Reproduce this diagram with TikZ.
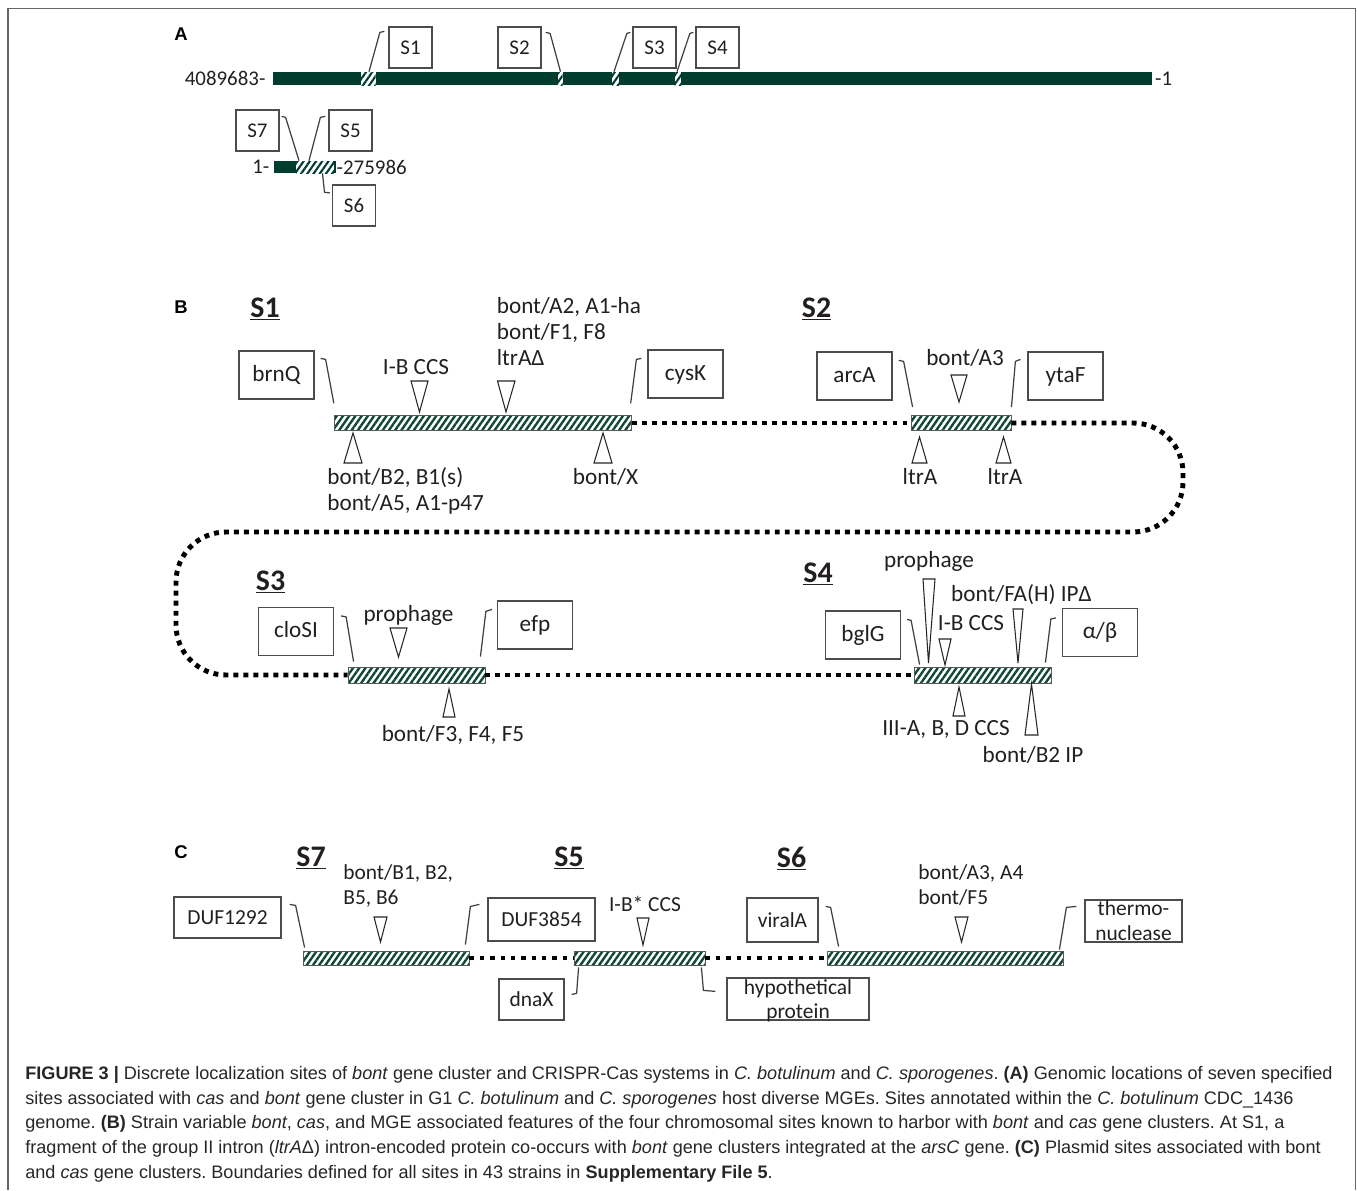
\documentclass[tikz,border=0pt]{standalone}
\usepackage{fontspec}
\setmainfont{Carlito}
\newfontfamily\capfont{Liberation Sans}
\usepackage{xcolor}
\usepackage{tikz}
\usetikzlibrary{patterns.meta}
\definecolor{genomegreen}{RGB}{0,61,46}
\definecolor{hatchgreen}{RGB}{15,70,52}
\definecolor{inkgray}{RGB}{35,31,32}
\frenchspacing

\begin{document}
\begin{tikzpicture}[x=0.02cm, y=-0.02cm]
% Define styles
\tikzstyle{genebox} = [rectangle, draw=black!70, line width=0.7pt, fill=white, inner sep=0pt, text=inkgray, text centered]
\tikzstyle{boxA} = [genebox, minimum width=0.86cm, minimum height=0.82cm, font=\fontsize{11.9pt}{14pt}\selectfont]
\tikzstyle{boxB} = [genebox, minimum width=1.5cm, minimum height=0.96cm, text height=9.5pt, text depth=2.6pt, font=\fontsize{13.2pt}{15pt}\selectfont]
\tikzstyle{boxC} = [genebox, minimum height=0.84cm, align=center, font=\fontsize{12.2pt}{14.17pt}\selectfont]
\tikzstyle{hatchbar} = [rectangle, draw=black!65, line width=0.5pt, inner sep=0pt, preaction={fill=white}, pattern={Lines[angle=55,distance=2.9pt,line width=1.35pt]}, pattern color=hatchgreen]
\tikzstyle{hatchwin} = [preaction={fill=white}, pattern={Lines[angle=55,distance=2.9pt,line width=1.2pt]}, pattern color=genomegreen]
\tikzstyle{genome} = [rectangle, fill=genomegreen, inner sep=0pt]
\tikzstyle{leader} = [draw=black!75, line width=0.7pt, line join=round]
\tikzstyle{marker} = [draw=black!85, line width=0.6pt, fill=white, line join=miter]
\tikzstyle{chromdots} = [line width=2.8pt, dash pattern=on 2.8pt off 2.9pt]
\tikzstyle{plasdots} = [line width=2.4pt, dash pattern=on 2.5pt off 3.4pt]
\tikzstyle{labelA} = [inner sep=0pt, text=inkgray, font=\fontsize{11.9pt}{14pt}\selectfont]
\tikzstyle{labelB} = [inner sep=0pt, text=inkgray, font=\fontsize{13.2pt}{14.75pt}\selectfont]
\tikzstyle{labelC} = [inner sep=0pt, text=inkgray, font=\fontsize{12.2pt}{14.17pt}\selectfont]
\tikzstyle{sitetitle} = [inner sep=0pt, text=inkgray, font=\fontsize{17pt}{19pt}\selectfont\bfseries]
\tikzstyle{panel} = [inner sep=0pt, font=\capfont\bfseries\fontsize{10.5pt}{12pt}\selectfont]
\tikzstyle{caption} = [inner sep=0pt, align=left, text=black!85, font=\capfont\fontsize{10.3pt}{14.03pt}\selectfont]

\useasboundingbox (0,0) rectangle (1358,1190);
\draw[black!60, line width=0.6pt] (8,1190) -- (8,8.5) -- (1355.5,8.5) -- (1355.5,1190);

% Panel A: genome and plasmid
\node[panel] (pA) at (181,34) {A};
\node[genome, minimum width=17.6cm, minimum height=0.26cm] (chrom) at (712.5,78.5) {};
\path[hatchwin] (361,72) rectangle (375.5,85);
\path[hatchwin] (558,72) rectangle (562.5,85);
\path[hatchwin] (612,72) rectangle (619,85);
\path[hatchwin] (674.5,72) rectangle (681,85);
\node[labelA, anchor=east, xshift=-0.13cm] (chromL) at (chrom.west) {4089683-};
\node[labelA, anchor=west, xshift=0.04cm] (chromR) at (chrom.east) {-1};

\node[genome, minimum width=1.24cm, minimum height=0.24cm] (plas) at (305,167) {};
\path[hatchwin] (296,161) rectangle (334,173);
\node[labelA, anchor=east, xshift=-0.08cm] (plasL) at (plas.west) {1-};
\node[labelA, anchor=west] (plasR) at (plas.east) {-275986};

\node[boxA] (sA1) at (410.5,47.5) {S1};
\node[boxA] (sA2) at (519.5,47.5) {S2};
\node[boxA] (sA3) at (654.5,47.5) {S3};
\node[boxA] (sA4) at (717.5,47.5) {S4};
\node[boxA] (sA7) at (257.5,130.5) {S7};
\node[boxA] (sA5) at (350.5,130.5) {S5};
\node[boxA] (sA6) at (354,205.5) {S6};

\draw[leader] ([shift={(-4,5)}]sA1.north west) -- ++(-4.5,1) -- (chrom.north -| 369,0);
\draw[leader] ([shift={(4,6)}]sA2.north east) -- ++(4.5,1) -- (chrom.north -| 560.5,0);
\draw[leader] ([shift={(-2,6)}]sA3.north west) -- ++(-3.5,1) -- (chrom.north -| 614,0);
\draw[leader] ([shift={(-2,6)}]sA4.north west) -- ++(-3.5,1) -- (chrom.north -| 677,0);
\draw[leader] ([shift={(2,7)}]sA7.north east) -- ++(4,1) -- (plas.north -| 299,0);
\draw[leader] ([shift={(-3,7)}]sA5.north west) -- ++(-5,1) -- (plas.north -| 309,0);
\draw[leader] (plas.south -| 322.5,0) -- ++(2,19) -- ([shift={(-2,8.5)}]sA6.north west);

% Panel B: chromosomal sites
\node[panel] (pB) at (181,307) {B};
\node[sitetitle, anchor=base] (tS1) at (265,317) {\underline{S1}};
\node[sitetitle, anchor=base] (tS2) at (816.5,317) {\underline{S2}};
\node[sitetitle, anchor=base] (tS3) at (270.5,590) {\underline{S3}};
\node[sitetitle, anchor=base] (tS4) at (818,582) {\underline{S4}};

\node[hatchbar, minimum width=5.94cm, minimum height=0.3cm] (s1bar) at (482.5,423) {};
\node[hatchbar, minimum width=2cm, minimum height=0.3cm] (s2bar) at (961,423) {};
\node[hatchbar, minimum width=2.74cm, minimum height=0.32cm] (s3bar) at (416.5,675) {};
\node[hatchbar, minimum width=2.74cm, minimum height=0.32cm] (s4bar) at (982.5,675) {};

\draw[chromdots] (s1bar.east) -- (s2bar.west);
\draw[chromdots, rounded corners=1cm] (s2bar.east) -- (s2bar.east -| 1183,0) -- (1183,532) -- (176,532) -- (176,0 |- s3bar.west) -- (s3bar.west);
\draw[chromdots] (s3bar.east) -- (s4bar.west);

\node[boxB] (brnQ) at (276.5,375) {brnQ};
\node[boxB] (cysK) at (685.5,374) {cysK};
\node[boxB] (arcA) at (854.5,376) {arcA};
\node[boxB] (ytaF) at (1065.5,376) {ytaF};
\node[boxB] (cloSI) at (296,631.5) {cloSI};
\node[boxB] (efp) at (535,625) {efp};
\node[boxB] (bglG) at (863,635) {bglG};
\node[boxB] (alphabeta) at (1100,632.5) {α/β};

\draw[leader] ([shift={(6,8)}]brnQ.north east) -- ++(5,1) -- ([shift={(1,-11)}]s1bar.north west);
\draw[leader] ([shift={(-6,9)}]cysK.north west) -- ++(-5,1) -- ([shift={(-1.5,-11)}]s1bar.north east);
\draw[leader] ([shift={(6,9)}]arcA.north east) -- ++(5,1) -- ([shift={(2,-8)}]s2bar.north west);
\draw[leader] ([shift={(-7,8)}]ytaF.north west) -- ++(-5,2) -- ([shift={(0,-8)}]s2bar.north east);
\draw[leader] ([shift={(7,9)}]cloSI.north east) -- ++(5,1) -- ([shift={(6,-5)}]s3bar.north west);
\draw[leader] ([shift={(-5,9)}]efp.north west) -- ++(-6,2) -- ([shift={(-5,-10)}]s3bar.north east);
\draw[leader] ([shift={(6,9)}]bglG.north east) -- ++(4,1) -- ([shift={(6,-2)}]s4bar.north west);
\draw[leader] ([shift={(-6,10)}]alphabeta.north west) -- ++(-5,1) -- ([shift={(-6,-4)}]s4bar.north east);

% insertion markers
\draw[marker] (411,381) -- (428,381) -- (419.5,412) -- cycle;
\draw[marker] (497.5,381) -- (515,381) -- (506,412) -- cycle;
\draw[marker] (344,463) -- (362,463) -- (353,433) -- cycle;
\draw[marker] (594,463) -- (612,463) -- (603,433) -- cycle;
\draw[marker] (951,375) -- (967,375) -- (959,402) -- cycle;
\draw[marker] (912,463) -- (927,463) -- (919.5,437) -- cycle;
\draw[marker] (996,463) -- (1011,463) -- (1003.5,437) -- cycle;
\draw[marker] (390,628) -- (407,628) -- (398.5,657) -- cycle;
\draw[marker] (443,717) -- (455,717) -- (449,689) -- cycle;
\draw[marker] (923,579) -- (935,579) -- (928.5,663) -- cycle;
\draw[marker] (939,639) -- (951,639) -- (945,665) -- cycle;
\draw[marker] (1013,609) -- (1023,609) -- (1018,663) -- cycle;
\draw[marker] (953,716) -- (965,716) -- (959,687) -- cycle;
\draw[marker] (1025,735) -- (1038,735) -- (1031.5,684) -- cycle;

\node[labelB, anchor=base] (ccsS1) at (416,374) {I-B CCS};
\node[labelB, anchor=base west, align=left] (bontA2) at (496.5,365) {bont/A2, A1-ha\\bont/F1, F8\\ltrAΔ};
\node[labelB, anchor=base west, align=left] (bontB2) at (327,510) {bont/B2, B1(s)\\bont/A5, A1-p47};
\node[labelB, anchor=base] (bontX) at (605.5,484) {bont/X};
\node[labelB, anchor=base] (bontA3) at (965,365) {bont/A3};
\node[labelB, anchor=base] (ltrA1) at (920,484) {ltrA};
\node[labelB, anchor=base] (ltrA2) at (1005,484) {ltrA};
\node[labelB, anchor=base] (prophS3) at (408.5,621) {prophage};
\node[labelB, anchor=base] (bontF3) at (453,741) {bont/F3, F4, F5};
\node[labelB, anchor=base] (prophS4) at (929,567) {prophage};
\node[labelB, anchor=base] (bontFA) at (1021.5,601) {bont/FA(H) IPΔ};
\node[labelB, anchor=base] (ccsS4) at (971,630) {I-B CCS};
\node[labelB, anchor=base] (ccsIII) at (946,735) {III-A, B, D CCS};
\node[labelB, anchor=base] (bontB2IP) at (1033,762) {bont/B2 IP};

% Panel C: plasmid sites
\node[panel] (pC) at (181,852) {C};
\node[sitetitle, anchor=base] (tS7) at (311,866) {\underline{S7}};
\node[sitetitle, anchor=base] (tS5) at (569,866) {\underline{S5}};
\node[sitetitle, anchor=base] (tS6) at (791.5,867) {\underline{S6}};

\node[hatchbar, minimum width=3.32cm, minimum height=0.28cm] (s7bar) at (386,958) {};
\node[hatchbar, minimum width=2.62cm, minimum height=0.28cm] (s5bar) at (639.5,958) {};
\node[hatchbar, minimum width=4.72cm, minimum height=0.28cm] (s6bar) at (945,958) {};
\draw[plasdots] (s7bar.east) -- (s5bar.west);
\draw[plasdots] (s5bar.east) -- (s6bar.west);

\node[boxC, minimum width=2.14cm, minimum height=0.82cm] (duf1292) at (227.5,917.5) {DUF1292};
\node[boxC, minimum width=2.14cm, minimum height=0.86cm] (duf3854) at (541.5,919.5) {DUF3854};
\node[boxC, minimum width=1.3cm, minimum height=0.82cm] (dnaX) at (531.5,999.5) {dnaX};
\node[boxC, minimum width=2.84cm, text depth=0pt] (hypo) at (798,999) {hypothetical\\protein};
\node[boxC, minimum width=1.42cm, minimum height=0.88cm] (viralA) at (782.5,920) {viralA};
\node[boxC, minimum width=1.94cm] (thermo) at (1133.5,921) {thermo-\\nuclease};

\draw[leader] ([shift={(8,8)}]duf1292.north east) -- ++(6,1) -- ([shift={(2,-3)}]s7bar.north west);
\draw[leader] ([shift={(-8,7)}]duf3854.north west) -- ++(-9,2) -- ([shift={(-4,-6)}]s7bar.north east);
\draw[leader] ([shift={(7,16)}]dnaX.north east) -- ++(5,-1) -- ([shift={(5,2)}]s5bar.south west);
\draw[leader] ([shift={(-11,14)}]hypo.north west) -- ++(-12,-1) -- ([shift={(-4,2)}]s5bar.south east);
\draw[leader] ([shift={(7,9)}]viralA.north east) -- ++(5,1) -- ([shift={(12,-4)}]s6bar.north west);
\draw[leader] ([shift={(-8,7)}]thermo.north west) -- ++(-10,1) -- ([shift={(-4,-1)}]s6bar.north east);

\draw[marker] (374,917) -- (387,917) -- (380.5,942) -- cycle;
\draw[marker] (637,918) -- (649,918) -- (643,945) -- cycle;
\draw[marker] (955,917) -- (968,917) -- (961.5,942) -- cycle;

\node[labelC, anchor=base west, align=left] (bontB1) at (343,904) {bont/B1, B2,\\B5, B6};
\node[labelC, anchor=base] (ccsS5) at (645,911) {I-B* CCS};
\node[labelC, anchor=base west, align=left] (bontA3A4) at (918,904) {bont/A3, A4\\bont/F5};

% Caption
\node[caption, anchor=base west] (caption) at (25,1178) {\textbf{FIGURE 3 |} Discrete localization sites of \textit{bont} gene cluster and CRISPR-Cas systems in \textit{C.~botulinum} and \textit{C.~sporogenes}. \textbf{(A)} Genomic locations of seven specified\\
sites associated with \textit{cas} and \textit{bont} gene cluster in G1 \textit{C.~botulinum} and \textit{C.~sporogenes} host diverse MGEs. Sites annotated within the \textit{C.~botulinum} CDC\_1436\\
genome. \textbf{(B)} Strain variable \textit{bont}, \textit{cas}, and MGE associated features of the four chromosomal sites known to harbor with \textit{bont} and \textit{cas} gene clusters. At S1, a\\
fragment of the group II intron (\textit{ltrA}Δ) intron-encoded protein co-occurs with \textit{bont} gene clusters integrated at the \textit{arsC} gene. \textbf{(C)} Plasmid sites associated with bont\\
and \textit{cas} gene clusters. Boundaries defined for all sites in 43 strains in \textbf{Supplementary File 5}.};
\end{tikzpicture}
\end{document}
